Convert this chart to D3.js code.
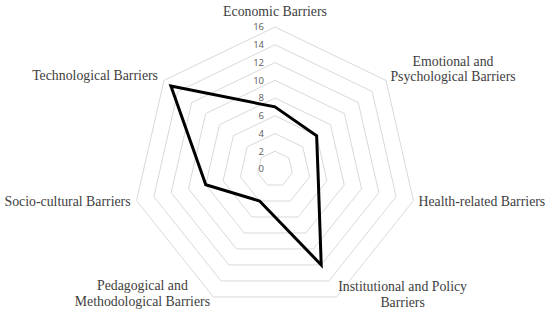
<!DOCTYPE html>
<html>
<head>
<meta charset="utf-8">
<script src="https://cdn.jsdelivr.net/npm/d3@7"></script>
<style>
  body { margin: 0; background: #fff; }
  svg { display: block; }
  .ring { fill: none; stroke: #d9d9d9; stroke-width: 1; }
  .tick-label { font-family: "Open Sans", "Liberation Sans", sans-serif; font-size: 9.5px; fill: #595959; }
  .cat-label { font-size: 13.8px; fill: #404040; }
  .series { fill: none; stroke: #000; stroke-width: 3; stroke-linejoin: miter; }
</style>
</head>
<body>
<svg id="chart" width="550" height="320"></svg>
<script>
'use strict';

// categories, clockwise from the top
const categories = [
    ['Economic Barriers'],
    ['Emotional and', 'Psychological Barriers'],
    ['Health-related Barriers'],
    ['Institutional and Policy', 'Barriers'],
    ['Pedagogical and', 'Methodological Barriers'],
    ['Socio-cultural Barriers'],
    ['Technological Barriers']
];

const values = [7, 6, 5, 12, 4, 8, 15];

const tickValues = [0, 2, 4, 6, 8, 10, 12, 14, 16];

const svg = d3.select('#chart');
const cx = 275;
const cy = 169;
const radius = 142;

const r = d3.scaleLinear().domain([0, 16]).range([0, radius]);
const angle = d3.scaleLinear().domain([0, categories.length]).range([0, 2 * Math.PI]);

const point = (i, v) => {
    let a = angle(i);
    return [cx + Math.sin(a) * r(v), cy - Math.cos(a) * r(v)];
};

// grid rings
const ringLine = d3.line().curve(d3.curveLinearClosed);
svg.append('g')
    .selectAll('path')
    .data(tickValues.filter(t => t > 0))
    .enter().append('path')
    .attr('class', 'ring')
    .attr('d', t => ringLine(categories.map((c, i) => point(i, t))));

// tick labels along the top axis
svg.append('g')
    .selectAll('text')
    .data(tickValues)
    .enter().append('text')
    .attr('class', 'tick-label')
    .attr('x', cx - 11)
    .attr('y', t => cy - r(t))
    .attr('dy', '0.35em')
    .attr('text-anchor', 'end')
    .text(t => t);

// series
svg.append('path')
    .datum(values)
    .attr('class', 'series')
    .attr('d', d3.line().curve(d3.curveLinearClosed)((values.map((v, i) => point(i, v)))));

// category labels: offset from the outer vertex
const labelOffsets = [
    { dx: 0, dy: -16, anchor: 'middle' },
    { dx: 67, dy: -12, anchor: 'middle' },
    { dx: 5, dy: 1, anchor: 'start' },
    { dx: 66, dy: -3, anchor: 'middle' },
    { dx: -71, dy: -4, anchor: 'middle' },
    { dx: -6, dy: 1, anchor: 'end' },
    { dx: -6, dy: -5, anchor: 'end' }
];

const labels = svg.append('g')
    .selectAll('text')
    .data(categories)
    .enter().append('text')
    .attr('class', 'cat-label')
    .attr('font-family', "'Liberation Serif', 'Times New Roman', Times, serif")
    .attr('text-anchor', (d, i) => labelOffsets[i].anchor)
    .attr('transform', (d, i) => {
        let p = point(i, 16);
        return 'translate(' + (p[0] + labelOffsets[i].dx) + ',' + (p[1] + labelOffsets[i].dy) + ')';
    });

labels.selectAll('tspan')
    .data(d => d.map((line, k) => ({ line, k, n: d.length })))
    .enter().append('tspan')
    .attr('x', 0)
    .attr('y', d => (d.k - (d.n - 1) / 2) * 15.5)
    .attr('dy', '0.35em')
    .text(d => d.line);
</script>
</body>
</html>
